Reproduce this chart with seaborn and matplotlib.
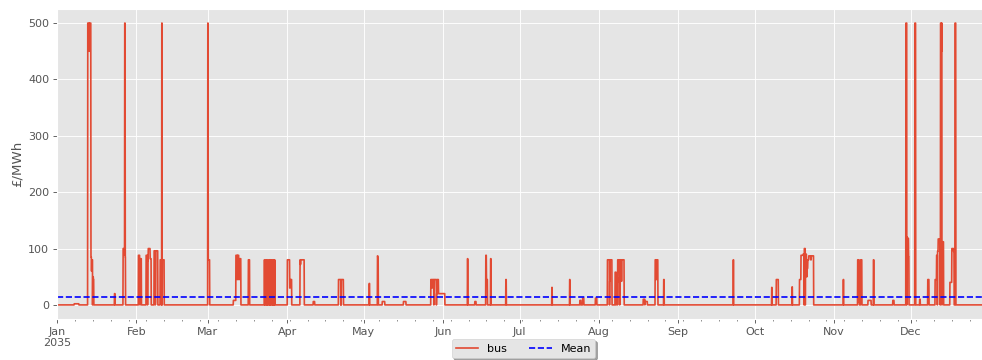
import numpy as np
import pandas as pd
import matplotlib
matplotlib.use("Agg")
import matplotlib.pyplot as plt
import matplotlib.dates as mdates
from matplotlib.ticker import FuncFormatter
import seaborn as sns

# Hourly marginal price at the bus for 2035, described as price episodes.
# Each episode sets the price for `episode_hours` hours starting at
# `episode_start_day` (day of year, fractional); later episodes override earlier ones.
year_start = "2035-01-01"
n_hours = 8760

episode_start_day = [
    6.7, 12.0, 12.55, 13.25, 13.45, 13.6, 13.95, 14.2, 22.45,
    25.85, 26.2, 26.45, 26.65, 31.85, 32.35, 32.5,
    34.85, 35.45, 35.65, 36.4, 37.95, 38.5, 38.6, 40.35, 40.95, 41.15,
    58.95, 59.12,
    68.95, 69.95, 70.45, 70.6, 71.1, 71.35, 74.85,
    81.1, 81.7, 82.3, 82.9, 83.5, 84.1, 84.7, 85.1,
    90.1, 91.0, 91.2, 95.05, 95.15, 100.2, 110.1, 111.05, 111.2,
    122.1, 125.35, 125.52, 127.2, 135.5,
    146.2, 146.6, 146.85, 147.45, 147.6, 148.45, 148.7, 149.2,
    160.55, 163.4, 167.7, 167.95, 169.6, 175.55,
    193.55, 200.5, 204.5, 205.6, 210.6,
    215.3, 216.15, 216.35, 218.3, 218.75, 219.3, 219.95, 220.15, 220.75, 220.9,
    229.3, 230.0, 233.95, 234.35, 234.55, 237.3,
    264.5, 279.55, 281.35, 287.5,
    290.4, 291.0, 291.85, 292.3, 292.75, 293.15, 293.4, 293.65, 294.05, 294.8, 295.05,
    307.55, 313.15, 313.75, 314.35, 317.2, 319.35, 326.9,
    332.05, 332.45, 332.65, 332.82, 333.07, 335.55, 337.4, 340.6,
    343.45, 344.05, 344.4, 344.65, 345.1, 345.6, 345.95, 346.2,
    349.25, 350.0, 350.65, 351.25,
]
episode_hours = [
    44, 30, 3, 5, 3, 8, 6, 4, 6,
    9, 6, 5, 3, 12, 3, 12,
    14, 5, 18, 10, 12, 2, 20, 14, 4, 18,
    4, 14,
    24, 12, 4, 12, 6, 14, 12,
    4, 4, 4, 4, 4, 4, 4, 3,
    22, 5, 14, 40, 4, 14, 22, 3, 20,
    5, 4, 4, 24, 24,
    10, 6, 14, 4, 20, 6, 12, 60,
    4, 12, 6, 10, 5, 5,
    4, 4, 10, 12, 14,
    20, 4, 18, 10, 12, 16, 4, 14, 4, 22,
    16, 22, 10, 5, 12, 5,
    4, 4, 20, 4,
    14, 20, 10, 10, 10, 6, 6, 10, 18, 6, 22,
    4, 14, 3, 12, 30, 5, 12,
    9, 5, 4, 6, 4, 8, 6, 12,
    14, 8, 6, 10, 8, 14, 3, 14,
    18, 16, 6, 8,
]
episode_level = [
    2, 500, 450, 85, 60, 80, 50, 45, 20,
    100, 88, 500, 85, 88, 40, 82,
    88, 78, 100, 82, 96, 5, 96, 80, 500, 80,
    500, 80,
    8, 88, 45, 88, 45, 82, 80,
    80, 80, 80, 80, 80, 80, 80, 80,
    80, 30, 45, 80, 72, 6, 45, 10, 45,
    38, 87, 80, 6, 6,
    45, 30, 45, 25, 45, 20, 45, 20,
    82, 6, 88, 45, 82, 45,
    31, 45, 8, 12, 12,
    80, 42, 80, 58, 48, 80, 40, 80, 42, 80,
    10, 6, 80, 45, 80, 45,
    80, 31, 45, 32,
    45, 88, 90, 100, 90, 50, 65, 80, 87, 80, 87,
    45, 80, 5, 80, 8, 80, 8,
    500, 120, 85, 118, 85, 500, 10, 45,
    45, 88, 95, 117, 112, 500, 450, 112,
    40, 100, 95, 500,
]

month_names = ["Jan", "Feb", "Mar", "Apr", "May", "Jun",
               "Jul", "Aug", "Sep", "Oct", "Nov", "Dec"]

# Build the hourly series
snapshots = pd.date_range(year_start, periods=n_hours, freq="h")
price = np.zeros(n_hours)
for day, hours, value in zip(episode_start_day, episode_hours, episode_level):
    i0 = int(round(day * 24))
    price[i0:i0 + hours] = value
df = pd.DataFrame({"snapshot": snapshots, "bus": price})
mean_price = df["bus"].mean()

plt.style.use("ggplot")
dpi = 80
fig = plt.figure(figsize=(982 / dpi, 360 / dpi), dpi=dpi)
ax = fig.add_axes([57 / 982, 1 - 319 / 360, 933 / 982, 310 / 360])

sns.lineplot(data=df, x="snapshot", y="bus", ax=ax, color="#E24A33",
             linewidth=1.5, label="bus")
ax.axhline(mean_price, color="blue", linestyle="--", linewidth=1.5, label="Mean")

ax.set_xlim(snapshots[0], snapshots[-1])
ax.set_ylim(-25, 525)
ax.set_yticks([0, 100, 200, 300, 400, 500])
ax.set_ylabel("£/MWh")
ax.set_xlabel("")

ax.xaxis.set_major_locator(mdates.MonthLocator())
ax.xaxis.set_minor_locator(mdates.WeekdayLocator(byweekday=mdates.MO))


def month_label(x, pos):
    d = mdates.num2date(x)
    name = month_names[d.month - 1]
    return f"{name}\n{d.year}" if d.month == 1 else name


ax.xaxis.set_major_formatter(FuncFormatter(month_label))
ax.xaxis.set_minor_formatter(FuncFormatter(lambda x, pos: ""))
ax.grid(True, which="major", color="white")

ax.legend(loc="upper center", bbox_to_anchor=(0.5, -0.065), ncol=2,
          shadow=True, borderaxespad=0)

fig.savefig("out.png", dpi=dpi)
